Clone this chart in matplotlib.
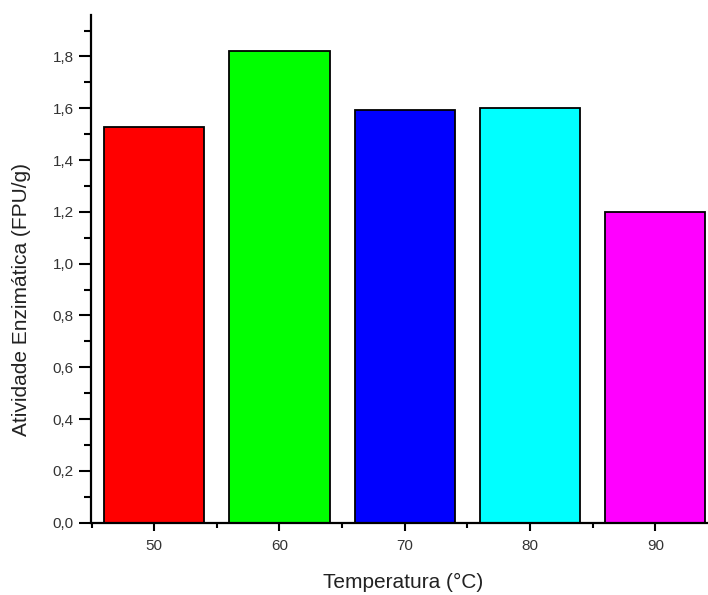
import numpy as np
import matplotlib.pyplot as plt
from matplotlib.ticker import MultipleLocator, FuncFormatter

plt.rcParams['font.family'] = ['Liberation Sans', 'DejaVu Sans']

temperatures = [50, 60, 70, 80, 90]
activity = [1.527, 1.822, 1.594, 1.600, 1.200]
bar_colors = ['#ff0000', '#00ff00', '#0000ff', '#00ffff', '#ff00ff']

fig = plt.figure(figsize=(7.08, 5.95), dpi=100)
ax = fig.add_axes([91.5/708, 1 - 522.7/595, (718 - 91.5)/708, (522.7 - 15)/595])

ax.bar(temperatures, activity, width=8, color=bar_colors,
       edgecolor='black', linewidth=1.3)

ax.set_xlim(45, 95)
ax.set_ylim(0, 1.96)

ax.set_xticks(temperatures)
ax.xaxis.set_minor_locator(MultipleLocator(5))
ax.set_yticks(np.arange(0, 1.81, 0.2))
ax.yaxis.set_minor_locator(MultipleLocator(0.1))
ax.yaxis.set_major_formatter(FuncFormatter(lambda v, p: f'{v:.1f}'.replace('.', ',')))

for s in ['top', 'right']:
    ax.spines[s].set_visible(False)
for s in ['left', 'bottom']:
    ax.spines[s].set_linewidth(1.6)

ax.tick_params(axis='y', which='major', direction='out', length=8.6, width=1.5,
               labelsize=11, pad=4, labelcolor='#333333')
ax.tick_params(axis='y', which='minor', direction='out', length=5, width=1.5)
ax.tick_params(axis='x', which='major', direction='out', length=5.8, width=1.5,
               labelsize=11, pad=6, labelcolor='#333333')
ax.tick_params(axis='x', which='minor', direction='out', length=3.6, width=1.5)

ax.set_xlabel('Temperatura (°C)', fontsize=15, va='center', color='#222222')
ax.xaxis.set_label_coords(0.498, -0.1168)
ax.set_ylabel('Atividade Enzimática (FPU/g)', fontsize=15, va='center', color='#222222')
ax.yaxis.set_label_coords(-0.111, 0.4406)

fig.savefig('out.png', dpi=100)
